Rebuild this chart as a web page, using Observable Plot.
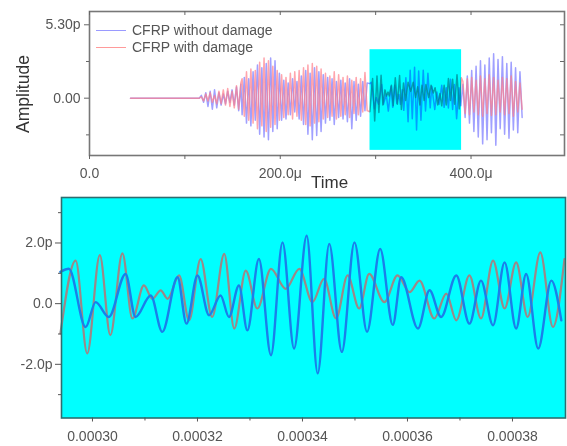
<!DOCTYPE html>
<html><head><meta charset="utf-8">
<script src="https://cdn.jsdelivr.net/npm/d3@7"></script>
<script src="https://cdn.jsdelivr.net/npm/@observablehq/plot@0.6"></script>
<style>
html,body{margin:0;padding:0;background:#fff;}
#wrap{position:relative;width:567px;height:446px;overflow:hidden;font-family:"Liberation Sans",Arial,sans-serif;}
#wrap svg{display:block;}
.lab{position:absolute;color:#333;white-space:nowrap;}
.leg{position:absolute;left:96px;font-size:14px;color:#555;display:flex;align-items:center;white-space:nowrap;height:16px;}
.leg .sw{display:inline-block;width:30px;height:0;border-top:1.5px solid;margin-right:6px;}
</style></head><body><div id="wrap"></div>
<script>
// ---- axis domains (μs, p) ----
const topXDomain = [0, 498];
const topYDomain = [-4.14, 6.26];
const zoomX = [294.1, 390.1];
const zoomY = [-3.77, 3.5];
const topXTicks = [0, 100, 200, 300, 400];
const topYTicks = [0, 5.3];
const topYMinor = [-2.65, 2.65];
const bottomXTicks = [300, 320, 340, 360, 380];
const bottomXMinor = [310, 330, 350, 370];
const bottomYTicks = [-2, 0, 2];
const bottomYMinor = [-3, -1, 1, 3];
const seriesNames = ["CFRP without damage", "CFRP with damage"];

// ---- zoomed window (bottom panel): extrema ----
const blueZoomT = [293.9,295.5,298.7,300.6,303.1,306.3,308.2,311.1,313.3,316.2,317.9,320.0,322.2,324.4,326.0,327.9,329.5,331.7,334.0,336.2,338.4,340.8,342.9,345.1,347.5,349.9,352.3,354.8,357.2,358.8,362.0,364.2,366.4,369.3,371.8,374.0,376.3,378.5,380.7,382.6,384.9,387.4,389.3];
const blueZoomV = [1.05,1.15,-0.77,0.05,-0.44,0.98,-0.44,0.27,-0.93,0.87,-0.66,0.93,-0.38,0.27,-0.44,0.60,-0.88,1.47,-1.70,2.02,-1.48,2.24,-2.30,1.97,-1.59,2.02,-0.93,1.80,-0.70,0.87,-0.82,0.44,-0.44,0.93,-0.66,0.76,-0.71,1.36,-0.82,0.98,-1.48,0.76,-0.55];
const redZoomT = [293.9,296.8,299.0,301.4,303.4,305.7,307.6,309.8,311.4,313.0,314.3,316.5,318.4,320.6,322.8,325.1,327.0,329.2,331.4,334.0,336.8,339.4,341.9,344.1,346.4,348.6,350.8,352.7,355.6,358.1,360.4,362.3,365.1,367.4,369.3,371.8,374.0,376.3,378.5,380.7,382.9,385.3,387.7,389.9];
const redZoomV = [-0.98,1.42,-1.64,1.60,-1.04,1.66,-0.49,0.60,0.16,0.44,0.16,0.93,-0.55,1.47,-0.44,1.64,-0.82,1.09,-0.16,1.15,0.49,1.15,0.05,0.82,-0.49,0.93,-0.16,0.98,0.05,0.93,0.38,0.76,-0.49,0.33,-0.55,0.93,-0.49,1.42,-0.16,1.36,-0.44,1.69,-0.77,1.47];

// ---- overview (top panel) outside the window ----
const flatStartT = 43;
const sampleStep = 2.3;
const smallStartT = 115, earlyStartT = 160, lateStartT = 391.5;
const blueSmallV = [0,0.2,-0.3,0.4,-0.6,0.5,-0.8,0.6,-0.7,0.4,-0.5,0.3,-0.4,0.5,-0.3,0.6,-0.5,0.8,-0.9,1.0];
const blueEarlyV = [-1.2,1.5,-1.8,1.4,-2.0,1.9,-1.6,
  2.4,-2.6,2.2,-2.8,2.5,-3.0,2.9,-2.4,2.7,-2.2,1.8,
  -1.6,1.3,-1.5,1.1,-1.2,1.4,-1.0,1.2,-1.5,1.6,-1.9,
  2.0,-2.6,1.8,-3.0,2.2,-2.7,1.9,-2.4,1.7,
  -1.8,1.5,-1.6,1.4,-1.9,1.2,-1.4,
  1.3,-1.5,1.1,-1.7,1.4,-2.2,1.2,-1.6,1.0,-1.3,1.2,-0.9,1.1];
const blueLateV = [1.0,-1.4,1.6,-1.8,2.0,-2.4,2.3,-2.8,2.7,-3.3,2.4,-3.0,2.9,-2.5,3.2,-3.4,2.8,-2.2,3.0,-2.6,2.5,-2.9,2.6,-2.3,2.2,-2.5,1.9,-1.4];
const redSmallV = [0,0.1,-0.2,0.3,-0.2,0.4,-0.3,0.2,-0.4,0.5,-0.4,0.6,-0.5,0.7,-0.6,0.5,-0.7,0.9,-0.8,1.1];
const redEarlyV = [1.4,-1.3,1.9,-1.6,2.1,-1.8,2.0,
  -2.2,2.6,-2.0,2.9,-2.4,2.7,-2.1,2.3,-1.9,2.0,-1.6,
  1.7,-1.4,1.5,-1.2,1.8,-1.5,1.9,-1.3,2.0,-1.6,2.2,
  -1.9,2.4,-2.0,2.5,-1.8,2.3,-1.7,2.1,-1.5,
  1.8,-1.4,1.6,-1.3,1.9,-1.5,1.7,
  -1.3,1.5,-1.2,1.6,-1.4,1.3,-1.1,1.5,-1.2,1.4,-1.0,1.85,-0.9];
const redLateV = [1.2,-1.1,1.4,-1.2,1.5,-1.0,1.3,-1.2,1.6,-1.3,1.4,-1.1,1.7,-1.25,1.5,-1.2,1.3,-1.0,1.5,-1.2,1.4,-1.1,1.6,-1.3,1.2,-1.0,1.1,-0.8];

// ---- build tables ----
const pairs = (T, V) => T.map((t, i) => ({t, v: V[i]}));
const grid = (t0, V) => V.map((v, i) => ({t: t0 + i * sampleStep, v}));
const blueZoom = pairs(blueZoomT, blueZoomV);
const redZoom = pairs(redZoomT, redZoomV);
const blueTop = [{t: flatStartT, v: 0}, ...grid(smallStartT, blueSmallV), ...grid(earlyStartT, blueEarlyV), ...blueZoom, ...grid(lateStartT, blueLateV)];
const redTop = [{t: flatStartT, v: 0}, ...grid(smallStartT, redSmallV), ...grid(earlyStartT, redEarlyV), ...redZoom, ...grid(lateStartT, redLateV)];
const zoomBox = [{x1: zoomX[0], x2: zoomX[1], y1: zoomY[0], y2: zoomY[1]}];

const font = {fontFamily: "'Liberation Sans', Arial, sans-serif", fontSize: "14px", color: "#555", background: "#fff", overflow: "visible"};

const topW = 567, topH = 190, topML = 89, topMR = 3, topMT = 11, topMB = 35;
const topChart = Plot.plot({
  width: topW, height: topH, marginTop: topMT, marginBottom: topMB, marginLeft: topML, marginRight: topMR,
  x: {domain: topXDomain}, y: {domain: topYDomain},
  style: font,
  marks: [
    Plot.lineY(blueTop, {x: "t", y: "v", stroke: "#8080ff", strokeWidth: 1.5, strokeOpacity: 0.75}),
    Plot.lineY(redTop, {x: "t", y: "v", stroke: "#ff7f8a", strokeWidth: 1.5, strokeOpacity: 0.7}),
    Plot.rect(zoomBox, {x1: "x1", x2: "x2", y1: "y1", y2: "y2", fill: "#00ffff", mixBlendMode: "multiply"}),
    Plot.frame({stroke: "#777", strokeWidth: 1.6}),
    Plot.axisX({ticks: topXTicks, tickFormat: d => d % 200 === 0 ? (d === 0 ? "0.0" : d.toFixed(1) + "μ") : "", tickSize: 4, tickPadding: 9, label: null, stroke: "#666"}),
    Plot.tickX(topXTicks, {x: d => d, insetBottom: topH - topMT - topMB - 4, stroke: "#666"}),
    Plot.axisY({ticks: topYTicks, tickFormat: d => d === 0 ? "0.00" : d.toFixed(2) + "p", tickSize: 5, tickPadding: 4, label: null, stroke: "#666"}),
    Plot.axisY({ticks: topYMinor, tickFormat: () => "", tickSize: 3, label: null, stroke: "#666"}),
    Plot.tickY([...topYTicks, ...topYMinor], {y: d => d, insetLeft: topW - topML - topMR - 4, stroke: "#666"})
  ]
});

const botChart = Plot.plot({
  width: 567, height: 256, marginTop: 7, marginBottom: 28.5, marginLeft: 61, marginRight: 2,
  x: {domain: zoomX}, y: {domain: zoomY},
  style: font,
  marks: [
    Plot.frame({fill: "#00ffff"}),
    Plot.lineY(redZoom, {x: "t", y: "v", curve: "monotone-x", stroke: "#9c8888", strokeWidth: 2.2}),
    Plot.lineY(blueZoom, {x: "t", y: "v", curve: "monotone-x", stroke: "#1a7fea", strokeWidth: 2.4}),
    Plot.frame({stroke: "#2e6e70", strokeWidth: 1.6}),
    Plot.axisX({ticks: bottomXTicks, tickFormat: d => (d * 1e-6).toFixed(5), tickSize: 4, tickPadding: 9, label: null, stroke: "#555"}),
    Plot.axisX({ticks: bottomXMinor, tickFormat: () => "", tickSize: 3, label: null, stroke: "#555"}),
    Plot.axisY({ticks: bottomYTicks, tickFormat: d => d === 0 ? "0.0" : d.toFixed(1) + "p", tickSize: 6, tickPadding: 3, label: null, stroke: "#555"}),
    Plot.axisY({ticks: bottomYMinor, tickFormat: () => "", tickSize: 3, label: null, stroke: "#555"})
  ]
});

const wrap = document.getElementById("wrap");
wrap.appendChild(topChart);
wrap.appendChild(botChart);

function addLabel(text, css) {
  const d = document.createElement("div");
  d.className = "lab"; d.textContent = text;
  Object.assign(d.style, css);
  wrap.appendChild(d);
  return d;
}
addLabel("Time", {left: "311px", top: "173px", fontSize: "17px"});
addLabel("Amplitude", {left: "23px", top: "94px", fontSize: "17.5px", transform: "translate(-50%,-50%) rotate(-90deg)"});

const legColors = ["#9a9aff", "#ff9a9a"];
seriesNames.forEach((name, i) => {
  const d = document.createElement("div");
  d.className = "leg";
  d.style.top = (22 + i * 17) + "px";
  const sw = document.createElement("span");
  sw.className = "sw"; sw.style.borderTopColor = legColors[i];
  d.appendChild(sw);
  d.appendChild(document.createTextNode(name));
  wrap.appendChild(d);
});
</script></body></html>
